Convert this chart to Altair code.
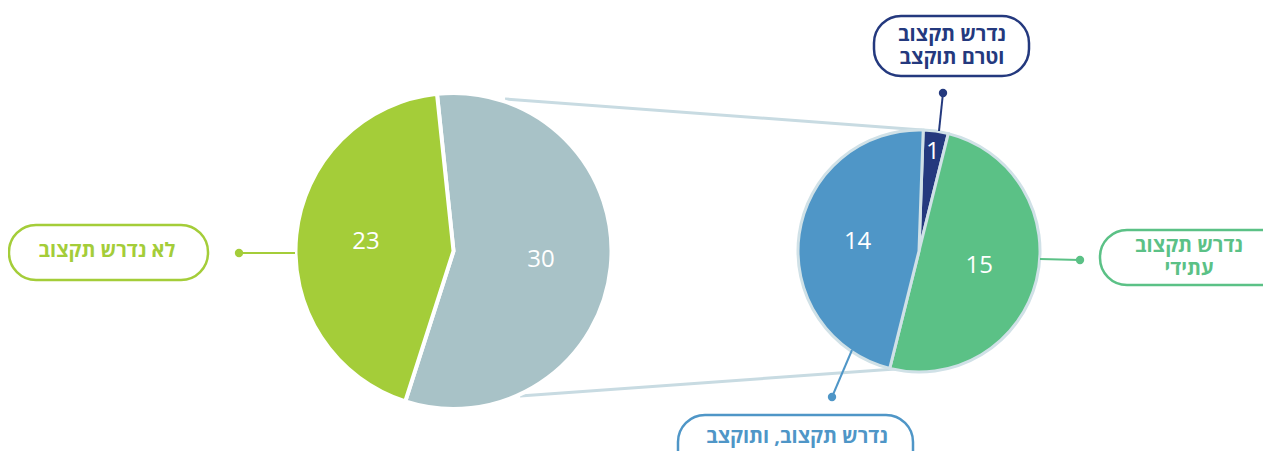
import math
import altair as alt
import pandas as pd

# ---------------- data ----------------
LEFT_CATS = ["נדרש תקצוב", "לא נדרש תקצוב"]
LEFT_VALUES = [30, 23]

RIGHT_CATS = ["נדרש תקצוב וטרם תוקצב", "נדרש תקצוב עתידי", "נדרש תקצוב, ותוקצב"]
RIGHT_VALUES = [1, 15, 14]

CALLOUT_CATS = ["לא נדרש תקצוב", "נדרש תקצוב וטרם תוקצב", "נדרש תקצוב עתידי", "נדרש תקצוב, ותוקצב"]
CALLOUT_LINES = [["לא נדרש תקצוב"], ["נדרש תקצוב", "וטרם תוקצב"], ["נדרש תקצוב", "עתידי"], ["נדרש תקצוב, ותוקצב"]]

# ---------------- styles / layout ----------------
ALL_CATS = LEFT_CATS + RIGHT_CATS
ALL_COLORS = ["#a8c2c7", "#a4cd39", "#24397e", "#5bc186", "#4f96c7"]
CONNECTOR_COLOR = "#c8dbe2"
RIGHT_STROKE = "#d0e1e7"
FONT = "Open Sans, DejaVu Sans, sans-serif"
LINE_GAP = 23

W, H = 1255, 443
OFF = 8  # page margin


def px(v):
    return v - OFF


LEFT_PIE = dict(cx=453.5, cy=251, r=158, start=-6.0, label_r=88)
RIGHT_PIE = dict(cx=919, cy=251, r=121, start=2.0, label_r=62, small_label_r=100)

# callout layout (page pixels): box x1,y1,x2,y2 ; text block centre x,y ; dot x,y ; leader end x,y
CALLOUT_LAYOUT = [
    dict(bx1=9, by1=225, bx2=208, by2=280, tx=107, ty=251, dx=239, dy=253, ex=295, ey=253),
    dict(bx1=874, by1=16, bx2=1029, by2=76, tx=952, ty=46, dx=943, dy=93, ex=939, ey=131),
    dict(bx1=1100, by1=230, bx2=1310, by2=285, tx=1189, ty=257, dx=1080, dy=260, ex=1040, ey=259),
    dict(bx1=678, by1=415, bx2=913, by2=490, tx=797, ty=437, dx=832, dy=397, ex=852, ey=350),
]

CONNECTOR_LAYOUT = [
    dict(x1=505, y1=99, x2=922, y2=130),
    dict(x1=520, y1=396, x2=895, y2=369),
]

color_scale = alt.Scale(domain=ALL_CATS, range=ALL_COLORS)


def theta_range(start_deg):
    a = math.radians(start_deg) + 2 * math.pi
    return [a, a + 2 * math.pi]


left_df = pd.DataFrame({"cat": LEFT_CATS, "value": LEFT_VALUES, "ord": list(range(len(LEFT_CATS)))})
right_df = pd.DataFrame({"cat": RIGHT_CATS, "value": RIGHT_VALUES, "ord": list(range(len(RIGHT_CATS)))})

callout_rows = []
line_rows = []
for cat, lines, lay in zip(CALLOUT_CATS, CALLOUT_LINES, CALLOUT_LAYOUT):
    row = {"cat": cat}
    for k, v in lay.items():
        row[k] = px(v)
    callout_rows.append(row)
    n = len(lines)
    for i, line in enumerate(lines):
        line_rows.append({
            "cat": cat,
            "line": line,
            "lx": px(lay["tx"]),
            "ly": px(lay["ty"] + (i - (n - 1) / 2) * LINE_GAP),
        })
callout_df = pd.DataFrame(callout_rows)
line_df = pd.DataFrame(line_rows)

conn_df = pd.DataFrame([{k: px(v) for k, v in c.items()} for c in CONNECTOR_LAYOUT])

# connectors between pies
connectors = alt.Chart(conn_df).mark_rule(color=CONNECTOR_COLOR, strokeWidth=3).encode(
    x=alt.X("x1:Q", scale=None), y=alt.Y("y1:Q", scale=None),
    x2="x2:Q", y2="y2:Q",
)


def pie_theta(start):
    return alt.Theta("value:Q", stack=True, scale=alt.Scale(range=theta_range(start)))


def pie_layers(df, pie, stroke, stroke_width):
    pos = dict(x=alt.value(px(pie["cx"])), y=alt.value(px(pie["cy"])))
    arc = alt.Chart(df).mark_arc(radius=pie["r"], stroke=stroke, strokeWidth=stroke_width).encode(
        theta=pie_theta(pie["start"]),
        color=alt.Color("cat:N", scale=color_scale, legend=None),
        order=alt.Order("ord:Q"),
        **pos,
    )
    layers = [arc]
    if "small_label_r" in pie:
        specs = [(pie["label_r"], alt.datum.value > 1), (pie["small_label_r"], alt.datum.value <= 1)]
    else:
        specs = [(pie["label_r"], alt.datum.value > 0)]
    for r, cond in specs:
        layers.append(
            alt.Chart(df).mark_text(radius=r, fontSize=24, color="white", font=FONT).encode(
                theta=pie_theta(pie["start"]),
                text=alt.Text("value:Q"),
                order=alt.Order("ord:Q"),
                opacity=alt.condition(cond, alt.value(1), alt.value(0)),
                **pos,
            )
        )
    return layers


left_layers = pie_layers(left_df, LEFT_PIE, "white", 4)
right_layers = pie_layers(right_df, RIGHT_PIE, RIGHT_STROKE, 3)

# callouts
leaders = alt.Chart(callout_df).mark_rule(strokeWidth=2).encode(
    x=alt.X("dx:Q", scale=None), y=alt.Y("dy:Q", scale=None), x2="ex:Q", y2="ey:Q",
    color=alt.Color("cat:N", scale=color_scale, legend=None),
)
dots = alt.Chart(callout_df).mark_circle(size=70, opacity=1).encode(
    x=alt.X("dx:Q", scale=None), y=alt.Y("dy:Q", scale=None),
    color=alt.Color("cat:N", scale=color_scale, legend=None),
)
boxes = alt.Chart(callout_df).mark_rect(filled=False, strokeWidth=2.5, cornerRadius=27).encode(
    x=alt.X("bx1:Q", scale=None), y=alt.Y("by1:Q", scale=None), x2="bx2:Q", y2="by2:Q",
    color=alt.Color("cat:N", scale=color_scale, legend=None),
)
labels = alt.Chart(line_df).mark_text(fontSize=20, fontWeight="bold", font=FONT,
                                      baseline="middle", align="center").encode(
    x=alt.X("lx:Q", scale=None), y=alt.Y("ly:Q", scale=None),
    text=alt.Text("line:N"),
    color=alt.Color("cat:N", scale=color_scale, legend=None),
)

chart = alt.layer(
    connectors, *left_layers, *right_layers,
    leaders, dots, boxes, labels,
).resolve_scale(theta="independent").properties(
    width=W, height=H, padding=0,
    autosize=alt.AutoSizeParams(type="none"),
).configure_view(strokeWidth=0)

chart.save("out.html", embed_options={"renderer": "svg", "actions": False})
